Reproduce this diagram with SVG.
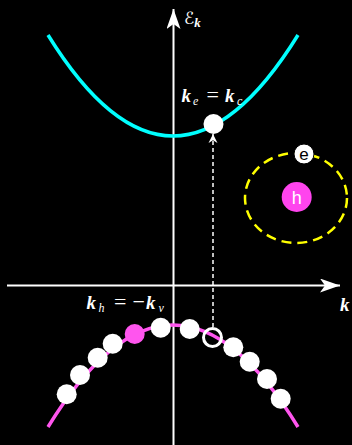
<svg xmlns="http://www.w3.org/2000/svg" width="352" height="445" viewBox="0 0 352 445">
<defs>
<style>
.axis{stroke:#fff;stroke-width:2;fill:none}
.math{font-family:"Liberation Serif","DejaVu Serif",serif;fill:#fff}
.kb{font-weight:bold;font-style:italic;font-size:19px}
.sub{font-style:italic;font-size:12px}
.op{font-size:22px}
.band{fill:none;stroke-width:3.5}
</style>
<marker id="ah" viewBox="0 0 20 14" refX="20" refY="7" markerWidth="20" markerHeight="14" markerUnits="userSpaceOnUse" orient="auto">
<path d="M0,0 L20,7 L0,14 L5,7 Z" fill="#fff"/>
</marker>
<marker id="ahs" viewBox="0 0 10 10" refX="10" refY="5" markerWidth="9" markerHeight="10" markerUnits="userSpaceOnUse" orient="auto">
<path d="M0,0 L10,5 L0,10 L3,5 Z" fill="#fff"/>
</marker>
</defs>
<rect width="352" height="445" fill="#000"/>
<g id="connectors">
<line class="axis" x1="7" y1="285.5" x2="340" y2="285.5" marker-end="url(#ah)"/>
<line class="axis" x1="173.5" y1="445" x2="173.5" y2="9" marker-end="url(#ah)"/>
<line x1="213" y1="327" x2="213" y2="134" stroke="#fff" stroke-width="1.5" stroke-dasharray="4,3" marker-end="url(#ahs)"/>
</g>
<g id="conduction-band">
<path class="band" d="M48,35 Q173,237 298,35" stroke="#00ffff"/>
</g>
<g id="valence-band">
<path class="band" d="M48,427 Q173,223 298,427" stroke="#ff55ee"/>
</g>
<g id="valence-electrons" fill="#fff">
<circle cx="66.7" cy="394.3" r="10"/>
<circle cx="80" cy="375" r="10"/>
<circle cx="97.7" cy="357.7" r="10"/>
<circle cx="112.7" cy="343.7" r="10"/>
<circle cx="160.7" cy="327.7" r="10"/>
<circle cx="189.7" cy="329" r="10"/>
<circle cx="233.3" cy="347.3" r="10"/>
<circle cx="249.7" cy="361.7" r="10"/>
<circle cx="267" cy="379" r="10"/>
<circle cx="280.7" cy="398.7" r="10"/>
</g>
<g id="hole">
<circle cx="134.7" cy="334" r="10" fill="#ff55ee"/>
</g>
<g id="empty-state">
<circle cx="212.5" cy="337.5" r="9" fill="none" stroke="#fff" stroke-width="3"/>
</g>
<g id="excited-electron">
<circle cx="213.5" cy="124" r="10" fill="#fff"/>
</g>
<g id="labels">
<text class="math" x="184" y="24" font-size="17"><tspan font-family="DejaVu Sans" font-size="17">ℰ</tspan><tspan class="kb" style="font-size:13px" dy="3">k</tspan></text>
<text class="math" y="102"><tspan class="kb" x="181.5">k</tspan><tspan class="sub" x="193" dy="3">e</tspan><tspan class="op" x="206.5" dy="-3">=</tspan><tspan class="kb" x="225">k</tspan><tspan class="sub" x="237" dy="3">c</tspan></text>
<text class="math" y="309"><tspan class="kb" x="86.5">k</tspan><tspan class="sub" x="98.5" dy="3">h</tspan><tspan class="op" x="114" dy="-3">=</tspan><tspan class="op" x="132.5">−</tspan><tspan class="kb" x="146">k</tspan><tspan class="sub" x="158.5" dy="3">v</tspan></text>
<text class="math kb" x="340" y="311">k</text>
</g>
<g id="exciton">
<ellipse cx="296" cy="198" rx="51" ry="45" fill="none" stroke="#ffff00" stroke-width="2.5" stroke-dasharray="10,6"/>
<circle cx="296.7" cy="197" r="15" fill="#ff44ee"/>
<text x="296.7" y="203.5" font-family="Liberation Sans, sans-serif" font-size="18" fill="#fff" text-anchor="middle">h</text>
<circle cx="304" cy="154" r="10" fill="#fff" stroke="#000" stroke-width="1"/>
<text x="304" y="160" font-family="Liberation Sans, sans-serif" font-size="17" fill="#000" text-anchor="middle">e</text>
</g>
</svg>
